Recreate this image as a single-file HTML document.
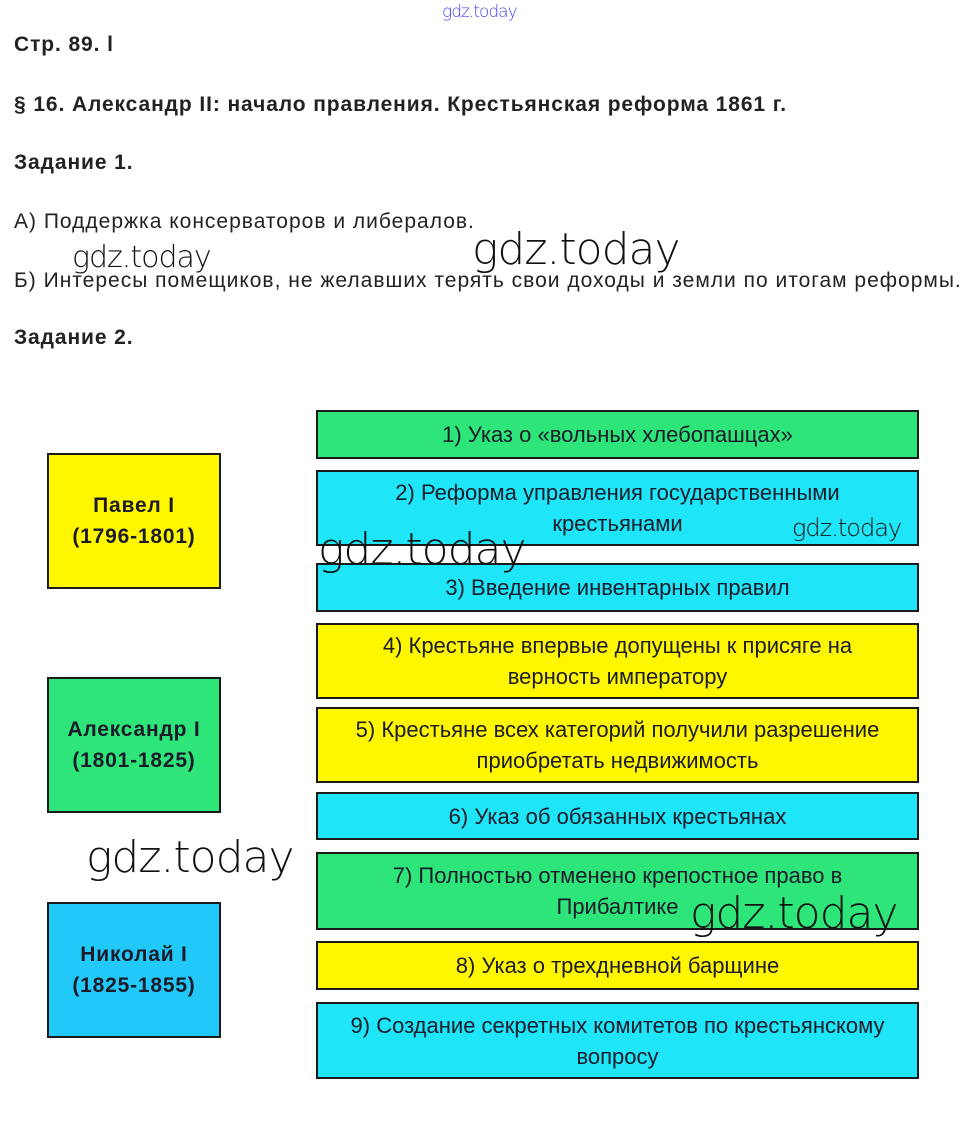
<!DOCTYPE html>
<html><head><meta charset="utf-8"><style>
body{margin:0;width:967px;height:1146px;background:#fff;position:relative;overflow:hidden;font-family:"Liberation Sans",sans-serif;color:#222}
.t{position:absolute;left:14px;font-size:21px;letter-spacing:1px;white-space:nowrap}
.b{font-weight:bold;letter-spacing:0.9px}
.r{position:absolute;left:316px;width:603px;border:2px solid #1a1a1a;display:flex;align-items:center;justify-content:center;text-align:center;font-family:"Liberation Sans",sans-serif;font-size:22px;line-height:31px;color:#1b1b2a;box-sizing:border-box}
.l{position:absolute;left:47px;width:174px;height:136px;border:2px solid #1a1a1a;box-sizing:border-box;display:flex;align-items:center;justify-content:center;text-align:center;font-weight:bold;font-size:21px;letter-spacing:0.8px;line-height:31px;color:#1b1b2a}
.g{background:#2ee57a}.c{background:#1ee6f8}.y{background:#fff700}
.w{position:absolute;font-family:"DejaVu Sans",sans-serif;font-weight:200;color:#111;white-space:nowrap;letter-spacing:-1px}
</style></head><body>
<div class="w" style="left:442px;top:2px;font-size:17px;color:#4444ee">gdz.today</div>
<div class="t b" style="top:33px">Стр. 89. l</div>
<div class="t b" style="top:93px">§ 16. Александр II: начало правления. Крестьянская реформа 1861 г.</div>
<div class="t b" style="top:151px">Задание 1.</div>
<div class="t" style="top:210px">А) Поддержка консерваторов и либералов.</div>
<div class="t" style="top:269px">Б) Интересы помещиков, не желавших терять свои доходы и земли по итогам реформы.</div>
<div class="t b" style="top:326px">Задание 2.</div>
<div class="w" style="left:72px;top:240px;font-size:30px">gdz.today</div>
<div class="w" style="left:472px;top:224px;font-size:44px">gdz.today</div>

<div class="l y" style="top:453px">Павел I<br>(1796-1801)</div>
<div class="l g" style="top:677px">Александр I<br>(1801-1825)</div>
<div class="l" style="top:902px;background:#22c8f8">Николай I<br>(1825-1855)</div>

<div class="r g" style="top:410px;height:49px">1) Указ о «вольных хлебопашцах»</div>
<div class="r c" style="top:470px;height:76px">2) Реформа управления государственными<br>крестьянами</div>
<div class="r c" style="top:563px;height:49px">3) Введение инвентарных правил</div>
<div class="r y" style="top:623px;height:76px">4) Крестьяне впервые допущены к присяге на<br>верность императору</div>
<div class="r y" style="top:707px;height:76px">5) Крестьяне всех категорий получили разрешение<br>приобретать недвижимость</div>
<div class="r c" style="top:792px;height:48px">6) Указ об обязанных крестьянах</div>
<div class="r g" style="top:852px;height:78px">7) Полностью отменено крепостное право в<br>Прибалтике</div>
<div class="r y" style="top:941px;height:49px">8) Указ о трехдневной барщине</div>
<div class="r c" style="top:1002px;height:77px">9) Создание секретных комитетов по крестьянскому<br>вопросу</div>

<div class="w" style="left:792px;top:514px;font-size:24px">gdz.today</div>
<div class="w" style="left:318px;top:524px;font-size:44px">gdz.today</div>
<div class="w" style="left:86px;top:832px;font-size:44px">gdz.today</div>
<div class="w" style="left:690px;top:888px;font-size:44px">gdz.today</div>
</body></html>
